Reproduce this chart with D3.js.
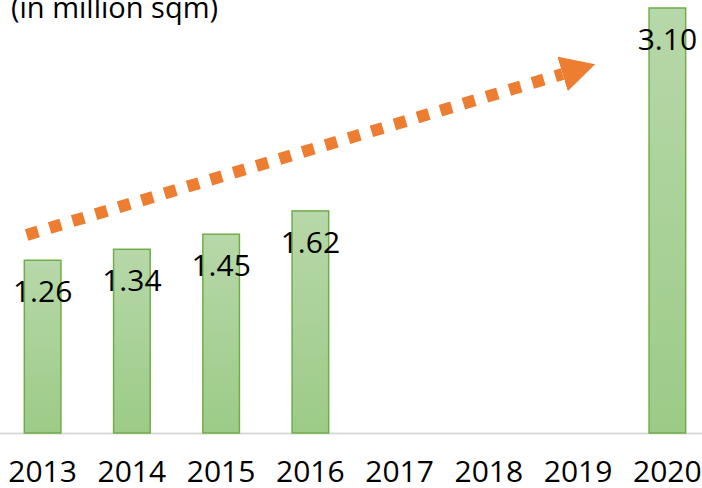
<!DOCTYPE html>
<html>
<head>
<meta charset="utf-8">
<script src="https://cdn.jsdelivr.net/npm/d3@7"></script>
<style>
  body { margin: 0; background: #fff; }
  svg { display: block; font-family: "Open Sans", "Noto Sans", sans-serif; font-weight: 400; }
</style>
</head>
<body>
<div id="chart"></div>
<script>
// years on the axis, values only where there is a bar
var years = ["2013", "2014", "2015", "2016", "2017", "2018", "2019", "2020"];
var barYears = ["2013", "2014", "2015", "2016", "2020"];
var barValues = [1.26, 1.34, 1.45, 1.62, 3.10];
var unitLabel = "(in million sqm)";

var data = barYears.map(function(d, i){ return {year: d, value: barValues[i]}; });

var width = 702, height = 488;
var baseY = 433;

var svg = d3.select("#chart").append("svg")
    .attr("width", width)
    .attr("height", height);

// band scale runs a little past the left/right edges (chart is cropped)
var x = d3.scaleBand()
    .domain(years)
    .range([-2, 712])
    .paddingInner(0.59)
    .paddingOuter(0.295);

var y = d3.scaleLinear()
    .domain([0, 3.10])
    .range([baseY, 8]);

// gradient for bars
var defs = svg.append("defs");
var grad = defs.append("linearGradient")
    .attr("id", "barGrad")
    .attr("x1", 0).attr("y1", 0).attr("x2", 0).attr("y2", 1);
grad.append("stop").attr("offset", "0%").attr("stop-color", "#b7d8a9");
grad.append("stop").attr("offset", "100%").attr("stop-color", "#9ccb87");

var marker = defs.append("marker")
    .attr("id", "arrowHead")
    .attr("viewBox", "0 0 34 36")
    .attr("refX", 0).attr("refY", 18)
    .attr("markerWidth", 34).attr("markerHeight", 36)
    .attr("markerUnits", "userSpaceOnUse")
    .attr("orient", "auto");
marker.append("path")
    .attr("d", "M0,0 L34,18 L0,36 Z")
    .attr("fill", "#ed7d31");

// axis line
svg.append("line")
    .attr("x1", 0).attr("x2", width)
    .attr("y1", baseY + 0.5).attr("y2", baseY + 0.5)
    .attr("stroke", "#d9d9d9")
    .attr("stroke-width", 2);

svg.selectAll("rect.bar")
    .data(data)
    .enter()
    .append("rect")
    .attr("class", "bar")
    .attr("x", d => x(d.year))
    .attr("y", d => y(d.value))
    .attr("width", x.bandwidth())
    .attr("height", d => baseY - y(d.value))
    .attr("fill", "url(#barGrad)")
    .attr("stroke", "#70ad47")
    .attr("stroke-width", 1.5);

svg.selectAll("text.val")
    .data(data)
    .enter()
    .append("text")
    .attr("class", "val")
    .attr("x", d => x(d.year) + x.bandwidth() / 2)
    .attr("y", d => y(d.value) + 42)
    .attr("text-anchor", "middle")
    .style("font-size", "30px")
    .style("fill", "#000")
    .text(d => d.value.toFixed(2));

// year labels
svg.selectAll("text.year")
    .data(years)
    .enter()
    .append("text")
    .attr("class", "year")
    .attr("x", d => x(d) + x.bandwidth() / 2)
    .attr("y", 482)
    .attr("text-anchor", "middle")
    .style("font-size", "30px")
    .style("fill", "#000")
    .text(d => d);

svg.append("text")
    .attr("x", 11)
    .attr("y", 18)
    .style("font-size", "29px")
    .style("fill", "#000")
    .text(unitLabel);

// dotted trend arrow
var cx = d => x(d) + x.bandwidth() / 2;
var ax1 = cx("2013") - 16, ay1 = y(1.445);
var tipX = cx("2019") + 17, tipY = y(2.69);
var ang = Math.atan2(tipY - ay1, tipX - ax1);
var ax2 = tipX - 34 * Math.cos(ang), ay2 = tipY - 34 * Math.sin(ang);

svg.append("line")
    .attr("x1", ax1).attr("y1", ay1)
    .attr("x2", ax2).attr("y2", ay2)
    .attr("stroke", "#ed7d31")
    .attr("stroke-width", 12)
    .attr("stroke-dasharray", "12,12")
    .attr("marker-end", "url(#arrowHead)");
</script>
</body>
</html>
